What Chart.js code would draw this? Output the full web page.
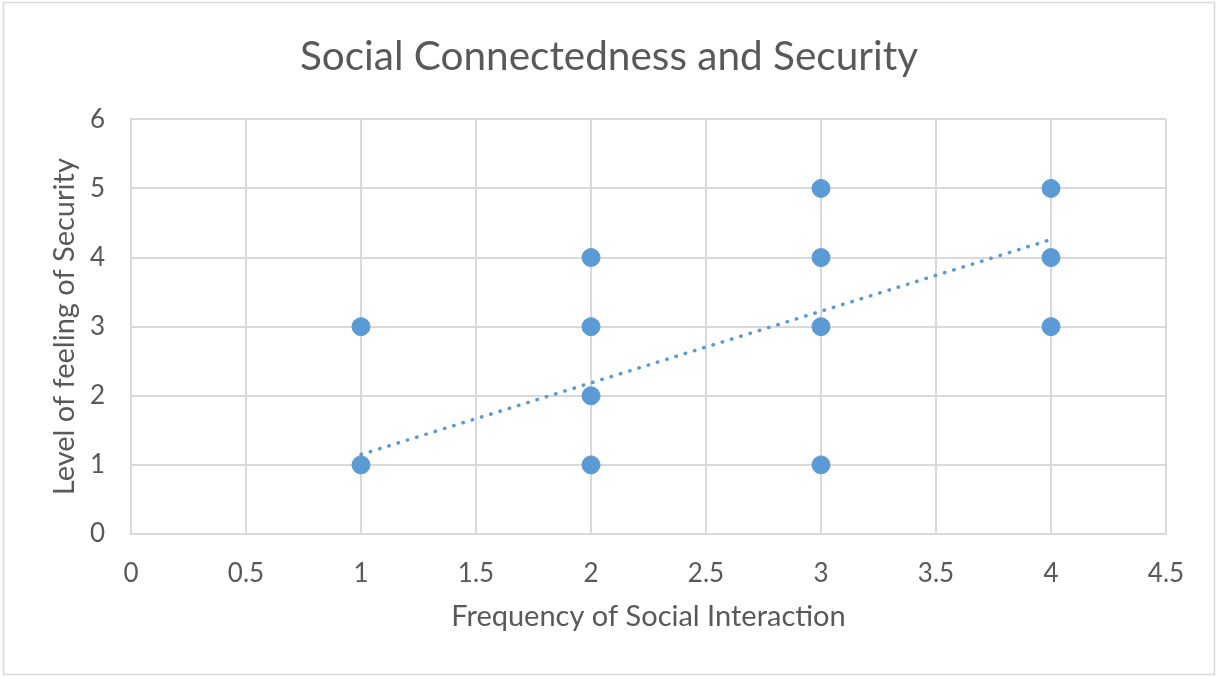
<!DOCTYPE html>
<html>
<head>
<meta charset="utf-8">
<script src="https://cdn.jsdelivr.net/npm/chart.js@4.4.1/dist/chart.umd.min.js"></script>
<style>
  html, body { margin: 0; padding: 0; background: #ffffff; }
  #wrap { width: 1218px; height: 677px; position: relative; }
</style>
</head>
<body>
<div id="wrap"><canvas id="c" width="1218" height="677"></canvas></div>
<script>
// Survey responses: frequency of social interaction vs. feeling of security
const interactionFreq = [1, 1, 2, 2, 2, 2, 3, 3, 3, 3, 4, 4, 4];
const securityLevel   = [3, 1, 4, 3, 2, 1, 5, 4, 3, 1, 5, 4, 3];

// Linear trendline end points
const trendX = [1, 4];
const trendY = [1.15, 4.26];

const xTickValues = [0, 0.5, 1, 1.5, 2, 2.5, 3, 3.5, 4, 4.5];
const yTickValues = [0, 1, 2, 3, 4, 5, 6];

const chartTitle = 'Social Connectedness and Security';
const xAxisTitle = 'Frequency of Social Interaction';
const yAxisTitle = 'Level of feeling of Security';

const BLUE = '#5B9BD5';
const TEXT = '#595959';
const GRID = '#d9d9d9';
const FONT = 'Lato, "Open Sans", sans-serif';

const points = interactionFreq.map((x, i) => ({ x, y: securityLevel[i] }));
const trend = trendX.map((x, i) => ({ x, y: trendY[i] }));

const outerBorder = {
  id: 'outerBorder',
  beforeDraw(chart) {
    const ctx = chart.ctx;
    ctx.save();
    ctx.fillStyle = '#ffffff';
    ctx.fillRect(0, 0, chart.width, chart.height);
    ctx.strokeStyle = '#d9d9d9';
    ctx.lineWidth = 1.5;
    ctx.strokeRect(3.5, 2.5, 1211, 672);
    ctx.restore();
  }
};

const plainNumber = v => String(Number(v));

new Chart(document.getElementById('c'), {
  type: 'scatter',
  data: {
    datasets: [
      {
        label: 'Linear trend',
        data: trend,
        showLine: true,
        borderColor: BLUE,
        borderWidth: 3.5,
        borderDash: [0.5, 9.2],
        borderCapStyle: 'round',
        pointRadius: 0,
        fill: false
      },
      {
        label: 'Responses',
        data: points,
        backgroundColor: BLUE,
        borderColor: BLUE,
        borderWidth: 1,
        pointRadius: 9,
        pointHoverRadius: 9
      }
    ]
  },
  options: {
    responsive: false,
    animation: false,
    events: [],
    layout: { padding: 0 },
    plugins: {
      legend: { display: false },
      tooltip: { enabled: false },
      title: {
        display: true,
        text: chartTitle,
        color: TEXT,
        font: { family: FONT, size: 40.5, weight: 'normal', lineHeight: 1.2 },
        padding: { top: 33, bottom: 37.7 }
      }
    },
    scales: {
      x: {
        type: 'linear',
        min: 0,
        max: 4.5,
        afterBuildTicks(scale) { scale.ticks = xTickValues.map(v => ({ value: v })); },
        afterFit(scale) { scale.height = 143; },
        grid: { color: GRID, lineWidth: 2, drawTicks: false },
        border: { color: GRID, width: 2 },
        ticks: { color: TEXT, padding: 24, callback: plainNumber, font: { family: FONT, size: 26 } },
        title: {
          display: true,
          text: xAxisTitle,
          color: TEXT,
          font: { family: FONT, size: 29, lineHeight: 1.2 },
          padding: { top: 0, bottom: 42.6 }
        }
      },
      y: {
        type: 'linear',
        min: 0,
        max: 6,
        afterBuildTicks(scale) { scale.ticks = yTickValues.map(v => ({ value: v })); },
        afterFit(scale) { scale.width = 131; },
        grid: { color: GRID, lineWidth: 2, drawTicks: false },
        border: { color: GRID, width: 2 },
        ticks: { color: TEXT, padding: 26, callback: plainNumber, font: { family: FONT, size: 26 } },
        title: {
          display: true,
          text: yAxisTitle,
          color: TEXT,
          font: { family: FONT, size: 29, lineHeight: 1.2 },
          padding: { top: 47.6, bottom: 0 }
        }
      },
      // empty right-hand margin beside the plot area
      yRight: {
        type: 'linear',
        position: 'right',
        min: 0,
        max: 6,
        grid: { display: false },
        border: { display: false },
        ticks: { display: false },
        afterFit(scale) { scale.width = 52; }
      }
    }
  },
  plugins: [outerBorder]
});
</script>
</body>
</html>
